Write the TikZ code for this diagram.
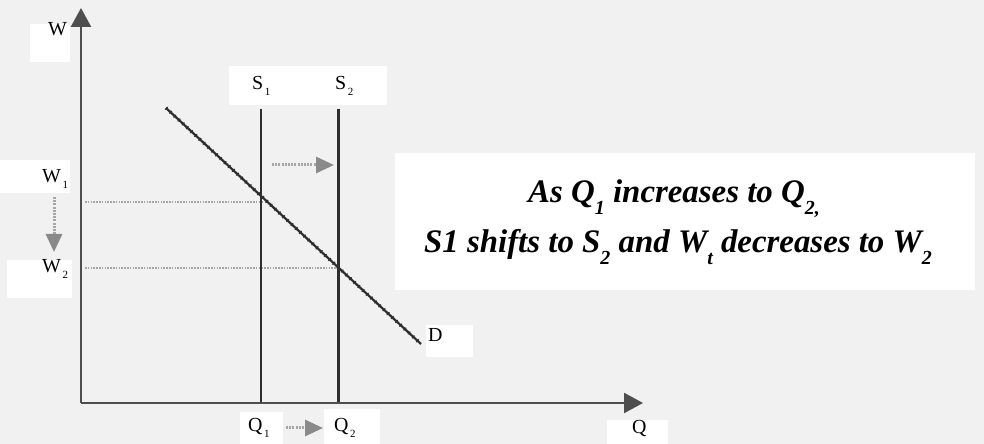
\documentclass[tikz,border=0pt]{standalone}
\usepackage{fontspec}
\setmainfont{Liberation Serif}
\usetikzlibrary{arrows.meta}
\definecolor{bg}{HTML}{F1F1F1}
\definecolor{axisc}{HTML}{4E4E4E}
\definecolor{lineD}{HTML}{2E2E2E}
\definecolor{arrowg}{HTML}{8A8A8A}
\definecolor{dotg}{HTML}{A6A6A6}
\newcommand\lblsub[1]{\hspace{1.5bp}\raisebox{-6bp}{\fontsize{11}{11}\selectfont #1}}
\newcommand\bigsub[1]{\raisebox{-0.35em}{\fontsize{20}{20}\selectfont #1}}
\tikzset{
  wbox/.style={fill=white,draw=none},
  lbl/.style={anchor=base west,inner sep=0pt,font=\fontsize{20}{20}\selectfont},
  maintext/.style={anchor=base,inner sep=0pt,font=\bfseries\itshape\fontsize{33}{40}\selectfont},
  axis/.style={draw=axisc,line width=2.4bp,-{Triangle[length=19bp,width=20bp]}},
  supply/.style={draw=lineD,line width=2bp},
  supplythick/.style={draw=lineD,line width=3bp},
  dline/.style={draw=lineD,line width=2.2bp},
  dbeads/.style={draw=lineD,line width=3.6bp,dash pattern=on 1.2bp off 4.5bp},
  guide/.style={draw=dotg,line width=1.4bp,dash pattern=on 1.6bp off 1.2bp},
  shiftarrow/.style={draw=dotg,line width=3bp,dash pattern=on 2bp off 1.2bp,
    -{Triangle[length=18bp,width=16bp,color=arrowg]}},
}
\begin{document}
\begin{tikzpicture}[x=1bp,y=-1bp]
\fill[bg] (0,0) rectangle (984,444);
\useasboundingbox (0,0) rectangle (984,444);
% white label boxes
\fill[wbox] (30,24) rectangle (70,62);
\fill[wbox] (0,160) rectangle (70,193);
\fill[wbox] (7,260) rectangle (72,298);
\fill[wbox] (229,66) rectangle (387,105);
\fill[wbox] (240,412) rectangle (283,444);
\fill[wbox] (324,409) rectangle (380,444);
\fill[wbox] (607,420) rectangle (668,444);
\fill[wbox] (426,325) rectangle (473,357);
\fill[wbox] (395,153) rectangle (975,290);
% key points
\coordinate (O) at (81,403);
\coordinate (ytip) at (81,8);
\coordinate (xtip) at (643,403);
\coordinate (S1top) at (261,109);
\coordinate (S1bot) at (261,403);
\coordinate (S2top) at (338,109);
\coordinate (S2bot) at (338,403);
\coordinate (Dstart) at (166,108);
\coordinate (Dend) at (421,344);
\coordinate (W1left) at (85,202);
\coordinate (W1pt) at (263,202);
\coordinate (W2left) at (85,268);
\coordinate (W2pt) at (338,268);
\coordinate (Wa) at (54,197);
\coordinate (Wb) at (54,252);
\coordinate (Sa) at (272,165);
\coordinate (Sb) at (334,165);
\coordinate (Qa) at (286,428);
\coordinate (Qb) at (323,428);
% guides
\draw[guide] (W1left) -- (W1pt);
\draw[guide] (W2left) -- (W2pt);
% supply lines
\draw[supply] (S1top) -- (S1bot);
\draw[supplythick] (S2top) -- (S2bot);
% demand
\draw[dline] (Dstart) -- (Dend);
\draw[dbeads] (Dstart) -- (Dend);
% axes
\draw[axis] (O) -- (ytip);
\draw[axis] (O) -- (xtip);
% shift arrows
\draw[shiftarrow] (Wa) -- (Wb);
\draw[shiftarrow] (Sa) -- (Sb);
\draw[shiftarrow] (Qa) -- (Qb);
% labels
\node[lbl] (Wlab) at (48,36) {W};
\node[lbl] (W1lab) at (42,183) {W\lblsub{1}};
\node[lbl] (W2lab) at (42,273) {W\lblsub{2}};
\node[lbl] (S1lab) at (252,90) {S\lblsub{1}};
\node[lbl] (S2lab) at (335,90) {S\lblsub{2}};
\node[lbl] (Q1lab) at (248,431) {Q\lblsub{1}};
\node[lbl] (Q2lab) at (334,431) {Q\lblsub{2}};
\node[lbl] (Qlab) at (632,433) {Q};
\node[lbl] (Dlab) at (428,342) {D};
% main text
\node[maintext] (txt1) at (674,203) {As Q\bigsub{1} increases to Q\bigsub{2,}};
\node[maintext] (txt2) at (678,253) {S1 shifts to S\bigsub{2} and W\bigsub{t} decreases to W\bigsub{2}};
\end{tikzpicture}
\end{document}
